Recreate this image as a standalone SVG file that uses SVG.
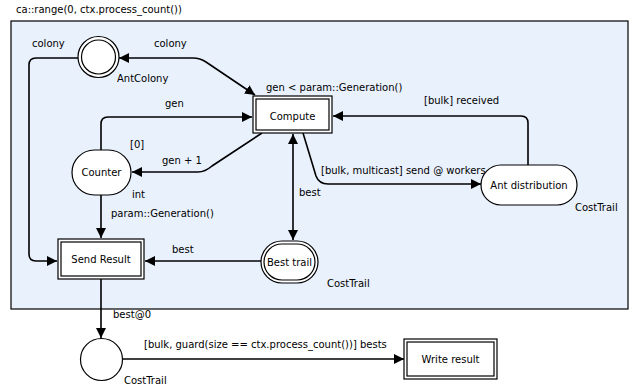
<svg xmlns="http://www.w3.org/2000/svg" width="636" height="387" viewBox="0 0 636 387">
<style>
text{font-family:"DejaVu Sans","Liberation Sans",sans-serif;font-size:10px;fill:#000}
.c{text-anchor:middle}
.n{fill:#fff;stroke:#000;stroke-width:1.2}
.e{fill:none;stroke:#000;stroke-width:1.6}
</style>
<defs>
<marker id="a" markerUnits="userSpaceOnUse" markerWidth="11" markerHeight="10" refX="10" refY="5" orient="auto-start-reverse">
<path d="M0,0 L10,5 L0,10 z" fill="#000"/>
</marker>
</defs>
<text x="16" y="13">ca::range(0, ctx.process_count())</text>
<rect x="11" y="21" width="617" height="288" fill="#e9f1fd" stroke="#000" stroke-width="1.2"/>
<g id="edges">
<path class="e" d="M79,58 L36,58 Q29,58 29,65 L29,254 Q29,261 36,261 L57,261" marker-end="url(#a)"/>
<text x="32" y="47">colony</text>
<path class="e" d="M119,58 L193,58 Q200,58 206,62 L255,95" marker-start="url(#a)" marker-end="url(#a)"/>
<text x="154" y="47">colony</text>
<path class="e" d="M101,150 L101,124 Q101,117 108,117 L252,117" marker-end="url(#a)"/>
<text x="165" y="107">gen</text>
<path class="e" d="M262,133 L212,166 Q205,172 198,172 L132,172" marker-end="url(#a)"/>
<text x="162" y="164">gen + 1</text>
<path class="e" d="M528,165 L528,123 Q528,116 521,116 L333,116" marker-end="url(#a)"/>
<text x="424" y="104">[bulk] received</text>
<path class="e" d="M303,133 L316,176 Q319,184 328,184 L481,184" marker-end="url(#a)"/>
<text x="321" y="174">[bulk, multicast] send @ workers</text>
<path class="e" d="M293,134 L293,240" marker-start="url(#a)" marker-end="url(#a)"/>
<text x="299" y="196">best</text>
<path class="e" d="M261,261 L145,261" marker-end="url(#a)"/>
<text x="172" y="253">best</text>
<path class="e" d="M101,195 L101,238" marker-end="url(#a)"/>
<path class="e" d="M101,279 L101,338" marker-end="url(#a)"/>
<text x="113" y="318">best@0</text>
<path class="e" d="M122,359 L404,359" marker-end="url(#a)"/>
<text x="144" y="348">[bulk, guard(size == ctx.process_count())] bests</text>
</g>
<g id="antcolony">
<circle class="n" cx="98.5" cy="57" r="20.5"/>
<circle class="n" cx="98.5" cy="57" r="17"/>
<text x="117" y="82">AntColony</text>
</g>
<g id="compute">
<rect class="n" x="253" y="96" width="79" height="37"/>
<rect class="n" x="256" y="99" width="73" height="31"/>
<text class="c" x="292.5" y="119.5">Compute</text>
<text x="266" y="91">gen &lt; param::Generation()</text>
</g>
<g id="counter">
<rect class="n" x="72" y="150" width="59" height="45" rx="22.5"/>
<text class="c" x="101.5" y="175.5">Counter</text>
<text x="130" y="148">[0]</text>
<text x="132" y="198">int</text>
<text x="111" y="217">param::Generation()</text>
</g>
<g id="sendresult">
<rect class="n" x="58" y="239" width="86" height="40"/>
<rect class="n" x="61" y="242" width="80" height="34"/>
<text class="c" x="101" y="262.5">Send Result</text>
</g>
<g id="besttrail">
<rect class="n" x="261" y="241" width="57" height="42" rx="21"/>
<rect class="n" x="264" y="244" width="51" height="36" rx="18"/>
<text class="c" x="289.5" y="265.5">Best trail</text>
<text x="327" y="287">CostTrail</text>
</g>
<g id="antdistribution">
<rect class="n" x="481" y="165" width="96" height="40" rx="20"/>
<text class="c" x="529" y="188.5">Ant distribution</text>
<text x="575" y="211">CostTrail</text>
</g>
<g id="result">
<circle class="n" cx="101.5" cy="359.5" r="21"/>
<text x="124" y="384">CostTrail</text>
</g>
<g id="writeresult">
<rect class="n" x="404" y="339" width="93" height="40"/>
<rect class="n" x="407" y="342" width="87" height="34"/>
<text class="c" x="450.5" y="362.5">Write result</text>
</g>
</svg>
